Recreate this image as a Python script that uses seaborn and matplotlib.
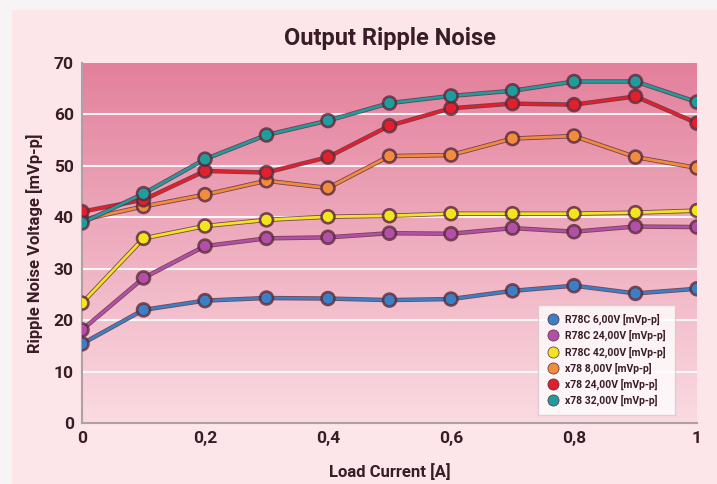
import numpy as np
import pandas as pd
import matplotlib
matplotlib.use("Agg")
import matplotlib.pyplot as plt
import matplotlib.patheffects as pe
from matplotlib.lines import Line2D
import seaborn as sns

load_current = [0.0, 0.1, 0.2, 0.3, 0.4, 0.5, 0.6, 0.7, 0.8, 0.9, 1.0]
r78c_6v = [15.4, 22.0, 23.8, 24.3, 24.2, 23.9, 24.1, 25.7, 26.7, 25.2, 26.1]
r78c_24v = [18.1, 28.2, 34.4, 35.9, 36.1, 36.9, 36.8, 37.9, 37.2, 38.2, 38.1]
r78c_42v = [23.3, 35.9, 38.3, 39.5, 40.1, 40.3, 40.7, 40.7, 40.7, 40.9, 41.3]
x78_8v = [39.5, 42.1, 44.4, 47.1, 45.7, 51.9, 52.1, 55.3, 55.8, 51.7, 49.6]
x78_24v = [41.1, 43.4, 49.0, 48.7, 51.7, 57.8, 61.2, 62.1, 61.9, 63.5, 58.3]
x78_32v = [38.9, 44.6, 51.3, 56.0, 58.8, 62.2, 63.6, 64.6, 66.4, 66.4, 62.4]

series_names = ["R78C 6,00V [mVp-p]", "R78C 24,00V [mVp-p]", "R78C 42,00V [mVp-p]",
                "x78 8,00V [mVp-p]", "x78 24,00V [mVp-p]", "x78 32,00V [mVp-p]"]
series_values = [r78c_6v, r78c_24v, r78c_42v, x78_8v, x78_24v, x78_32v]
series_colors = ["#3b7fc4", "#b24fa6", "#f2e41e", "#f08c3c", "#e0202c", "#1f9c9c"]

x_ticks = [0, 0.2, 0.4, 0.6, 0.8, 1.0]
x_tick_labels = ["0", "0,2", "0,4", "0,6", "0,8", "1"]
y_ticks = [0, 10, 20, 30, 40, 50, 60, 70]

rows = []
for name, vals in zip(series_names, series_values):
    for xv, yv in zip(load_current, vals):
        rows.append({"Load Current [A]": xv, "value": yv, "series": name})
df = pd.DataFrame(rows)

sns.set_theme(style="white")
plt.rcParams["font.family"] = ["Roboto", "DejaVu Sans"]

text_color = "#3a1c26"
W, H = 717, 484
fig = plt.figure(figsize=(W / 100, H / 100), dpi=100)
fig.patch.set_facecolor("#fce6ea")
fig.patches.append(plt.Rectangle((0, 0), 12 / W, 1, transform=fig.transFigure,
                                 facecolor="#f6f4f5", edgecolor="none", zorder=-10))
fig.patches.append(plt.Rectangle((0, 1 - 10 / H), 1, 10 / H, transform=fig.transFigure,
                                 facecolor="#f6f4f5", edgecolor="none", zorder=-10))

ax = fig.add_axes([82 / W, (H - 423) / H, 615 / W, 360 / H])
ax.set_facecolor("none")

# gradient background
grad = np.linspace(0, 1, 256).reshape(-1, 1)
top = np.array(matplotlib.colors.to_rgb("#e3809c"))
bot = np.array(matplotlib.colors.to_rgb("#fadbe2"))
img = top[None, None, :] * (1 - grad[:, :, None]) + bot[None, None, :] * grad[:, :, None]
ax.imshow(img, extent=[0, 1, 0, 1], transform=ax.transAxes, aspect="auto", zorder=0)

n_before = len(ax.get_lines())
sns.lineplot(data=df, x="Load Current [A]", y="value", hue="series",
             palette=series_colors, hue_order=series_names, marker="o",
             markersize=8, markeredgecolor="#5a2a3a", markeredgewidth=0.4,
             linewidth=2.0, ax=ax, legend=False, zorder=3)
for line in ax.get_lines()[n_before:]:
    line.set_path_effects([pe.Stroke(linewidth=3.2, foreground="#5a2a3a", alpha=0.8), pe.Normal()])

for yt in y_ticks[1:-1]:
    ax.axhline(yt, color="white", lw=1.5, alpha=0.9, zorder=1)

ax.set_xlim(0, 1)
ax.set_ylim(0, 70)
ax.set_xticks(x_ticks)
ax.set_xticklabels(x_tick_labels)
ax.set_yticks(y_ticks)
ax.tick_params(axis="both", labelsize=12.5, colors=text_color, length=0, pad=6)
for lab in ax.get_xticklabels() + ax.get_yticklabels():
    lab.set_fontweight("bold")

for s in ["top", "right"]:
    ax.spines[s].set_visible(False)
for s in ["left", "bottom"]:
    ax.spines[s].set_color("#b0a0a6")
    ax.spines[s].set_linewidth(1.5)

ax.set_xlabel("Load Current [A]", fontsize=12, fontweight="bold", color=text_color, labelpad=12)
ax.set_ylabel("Ripple Noise Voltage [mVp-p]", fontsize=12, fontweight="bold", color=text_color, labelpad=8)
fig.text((82 + 697) / 2 / W, 1 - 38 / H, "Output Ripple Noise", ha="center", va="center",
         fontsize=17, fontweight="bold", color=text_color)

handles = [Line2D([0], [0], marker="o", linestyle="none", markersize=8,
                  markerfacecolor=c, markeredgecolor="#5a2a3a", markeredgewidth=0.5)
           for c in series_colors]
leg = ax.legend(handles, series_names, loc="lower right", bbox_to_anchor=(0.964, 0.022),
                fontsize=7.5, frameon=True, handletextpad=0.5, labelspacing=0.45,
                borderpad=0.9, handlelength=1.2, fancybox=False, borderaxespad=0)
leg.get_frame().set_facecolor("white")
leg.get_frame().set_edgecolor("#d8c8cc")
for t in leg.get_texts():
    t.set_color(text_color)
    t.set_fontweight("bold")
leg.set_zorder(5)

fig.savefig("out.png", dpi=100, facecolor=fig.get_facecolor())
